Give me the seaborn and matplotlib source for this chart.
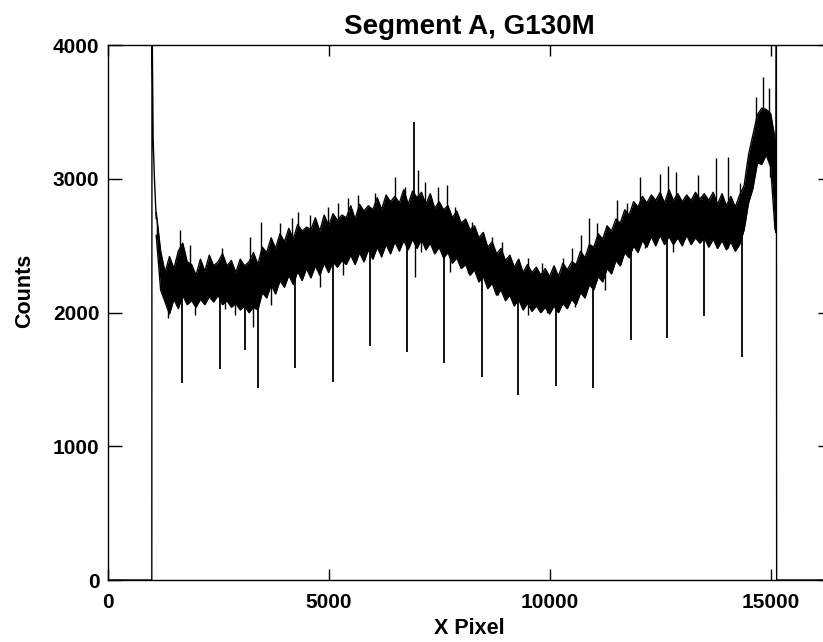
import numpy as np
import pandas as pd
import matplotlib
matplotlib.use("Agg")
import matplotlib.pyplot as plt
import seaborn as sns

# ---- data ----
# dense core of the noisy spectrum (X pixel, counts), every 100 pixels
env_x = list(range(1100, 15101, 100))
upper = [2750, 2460, 2300, 2420, 2330, 2460, 2520, 2380, 2360, 2280,
         2400, 2310, 2430, 2350, 2380, 2440, 2350, 2390, 2300, 2400,
         2350, 2380, 2450, 2360, 2490, 2450, 2560, 2480, 2590, 2530,
         2630, 2550, 2660, 2610, 2640, 2620, 2710, 2610, 2730, 2650,
         2740, 2690, 2730, 2710, 2800, 2700, 2810, 2760, 2800, 2770,
         2860, 2770, 2880, 2830, 2870, 2820, 2920, 2810, 2910, 2860,
         2900, 2810, 2890, 2780, 2830, 2770, 2800, 2710, 2760, 2670,
         2700, 2620, 2650, 2560, 2600, 2490, 2530, 2440, 2480, 2390,
         2430, 2340, 2400, 2300, 2360, 2300, 2340, 2280, 2330, 2270,
         2350, 2270, 2370, 2320, 2380, 2360, 2460, 2410, 2510, 2490,
         2590, 2550, 2650, 2610, 2700, 2670, 2770, 2730, 2830, 2790,
         2870, 2820, 2880, 2840, 2900, 2820, 2920, 2840, 2890, 2830,
         2880, 2840, 2900, 2850, 2890, 2840, 2900, 2810, 2890, 2800,
         2870, 2790, 2880, 2950, 3180, 3330, 3480, 3530, 3520, 3490,
         3300]
lower = [2580, 2170, 2080, 1990, 2100, 2030, 2130, 2060, 2090, 2040,
         2100, 2060, 2120, 2080, 2130, 2060, 2090, 2040, 2070, 2020,
         2050, 2000, 2040, 2020, 2150, 2110, 2210, 2140, 2240, 2190,
         2280, 2210, 2310, 2240, 2330, 2260, 2350, 2280, 2370, 2300,
         2380, 2340, 2390, 2360, 2430, 2360, 2450, 2380, 2470, 2400,
         2490, 2420, 2510, 2440, 2530, 2460, 2540, 2470, 2550, 2480,
         2550, 2470, 2520, 2440, 2490, 2410, 2450, 2370, 2410, 2330,
         2360, 2280, 2320, 2230, 2270, 2180, 2220, 2130, 2170, 2090,
         2130, 2050, 2100, 2020, 2070, 2010, 2050, 2000, 2040, 1990,
         2050, 2000, 2070, 2030, 2100, 2060, 2150, 2110, 2210, 2170,
         2270, 2230, 2330, 2290, 2390, 2350, 2450, 2410, 2500, 2450,
         2540, 2490, 2570, 2500, 2580, 2510, 2570, 2510, 2560, 2500,
         2580, 2510, 2560, 2520, 2560, 2490, 2550, 2480, 2540, 2470,
         2530, 2460, 2510, 2620, 2820, 2930, 3120, 3110, 3180, 3090,
         2620]

# noise peaks sticking out above the core (X pixel, peak counts)
peak_x = [1640, 1865, 2580, 3222, 3470, 3900, 4165, 4310, 4580, 4985,
          5205, 5440, 5665, 6050, 6500, 6730, 7020, 7180, 7470, 7670,
          7860, 8240, 8690, 8915, 9510, 9820, 10300, 10500, 10710, 10890,
          11070, 11520, 11745, 12045, 12500, 12670, 12860, 13350, 13765,
          14040, 14310, 14660, 14820, 14965]
peak_y = [2618, 2505, 2483, 2568, 2680, 2670, 2706, 2755, 2730, 2792,
          2818, 2855, 2880, 2893, 3016, 2942, 3066, 2979, 2942, 2954,
          2792, 2680, 2568, 2530, 2408, 2370, 2408, 2483, 2580, 2706,
          2670, 2842, 2818, 3016, 3040, 3100, 3054, 3030, 3154,
          3166, 2970, 3615, 3765, 3680]

# noise troughs below the core (X pixel, trough counts)
trough_x = [1360, 1980, 2655, 2880, 3290, 3700, 4800, 5330, 6190, 6950,
            7100, 7750, 8150, 8830, 9510, 9935, 10575, 11250, 12160, 12790,
            14040, 14190, 14985]
trough_y = [1960, 1980, 2027, 1980, 1895, 2057, 2194, 2281, 2418, 2268,
            2455, 2306, 2296, 2131, 1980, 1995, 2045, 2170, 2481, 2455,
            2481, 2483, 3016]

# narrow absorption dips
dip_x = [1690, 2545, 3110, 3395, 4240, 5095, 5937, 6770, 7611, 8468,
         9295, 10140, 10990, 11830, 12660, 13500, 14350]
dip_min = [1473, 1575, 1720, 1436, 1585, 1481, 1750, 1705, 1623, 1518,
           1384, 1455, 1436, 1795, 1810, 1975, 1668]

# emission spike
spike_x = [6936]
spike_max = [3428]

# detector edges (counts fall to zero outside the active area)
left_x = [0, 1000, 1004, 1030, 1060, 1100]
left_y = [0, 0, 4300, 3300, 3000, 2700]
right_x = [15100, 15120, 15130, 15136, 16384]
right_y = [3300, 2600, 4300, 0, 0]

title = "Segment A, G130M"
xlabel = "X Pixel"
ylabel = "Counts"
xticks = [0, 5000, 10000, 15000]
yticks = [0, 1000, 2000, 3000, 4000]

# ---- plotting ----
sns.set_theme(style="white")
plt.rcParams["font.family"] = ["Liberation Sans", "DejaVu Sans"]
plt.rcParams["font.weight"] = "bold"

fig = plt.figure(figsize=(8.23, 6.42), dpi=100)
ax = fig.add_axes([107.6 / 823, 62 / 642, (831.8 - 107.6) / 823, 534.7 / 642])

env = pd.DataFrame({"x": env_x, "upper": upper, "lower": lower})
env["mid"] = (env["upper"] + env["lower"]) / 2
ax.fill_between(env["x"], env["lower"], env["upper"], color="black", lw=0)
sns.lineplot(data=env, x="x", y="upper", ax=ax, color="black", lw=1.0,
             estimator=None, sort=False)
sns.lineplot(data=env, x="x", y="lower", ax=ax, color="black", lw=1.0,
             estimator=None, sort=False)


def core_mid(xs):
    """middle of the core at the nearest sampled X pixel (lookup, no fit)"""
    idx = np.clip(np.rint((np.asarray(xs) - env_x[0]) / 100).astype(int),
                  0, len(env_x) - 1)
    return env["mid"].to_numpy()[idx]


ax.vlines(peak_x, core_mid(peak_x), peak_y, color="black", lw=1.0)
ax.vlines(trough_x, trough_y, core_mid(trough_x), color="black", lw=1.0)
ax.vlines(dip_x, dip_min, core_mid(dip_x), color="black", lw=1.3)
ax.vlines(spike_x, core_mid(spike_x), spike_max, color="black", lw=1.3)

edges_l = pd.DataFrame({"x": left_x, "y": left_y})
edges_r = pd.DataFrame({"x": right_x, "y": right_y})
sns.lineplot(data=edges_l, x="x", y="y", ax=ax, color="black", lw=1.0,
             estimator=None, sort=False)
sns.lineplot(data=edges_r, x="x", y="y", ax=ax, color="black", lw=1.0,
             estimator=None, sort=False)

ax.set_xlim(0, 16384)
ax.set_ylim(0, 4000)
ax.set_xticks(xticks)
ax.set_yticks(yticks)
ax.set_xticklabels([str(v) for v in xticks])
ax.set_yticklabels([str(v) for v in yticks])

for s in ax.spines.values():
    s.set_visible(True)
    s.set_color("black")
    s.set_linewidth(1.0)

ax.tick_params(axis="x", direction="in", length=7.7, width=1.0, top=True,
               bottom=True, labelsize=15, pad=9, colors="black")
ax.tick_params(axis="y", direction="in", length=10.3, width=1.0, left=True,
               right=True, labelsize=15, pad=6, colors="black")
for lab in ax.get_xticklabels() + ax.get_yticklabels():
    lab.set_fontweight("bold")

ax.set_title(title, fontsize=20, fontweight="bold", pad=8, color="black")
ax.set_xlabel(xlabel, fontsize=15.5, fontweight="bold", color="black")
ax.set_ylabel(ylabel, fontsize=15.5, fontweight="bold", color="black")
ax.xaxis.set_label_coords(0.5, -0.072)
ax.yaxis.set_label_coords(-0.1, 0.54)

fig.savefig("out.png", dpi=100)
